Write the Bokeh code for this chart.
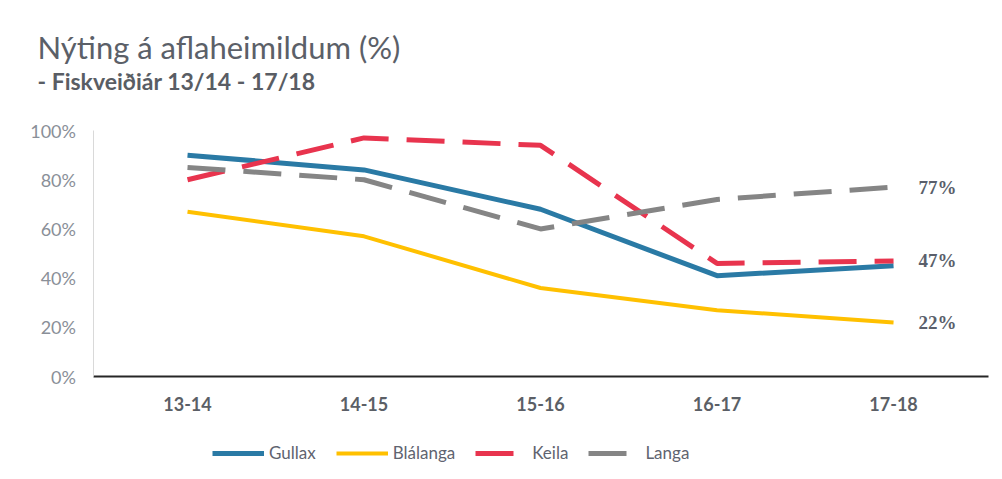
from bokeh.plotting import figure
from bokeh.models import (Range1d, FixedTicker, LabelSet, ColumnDataSource,
                          Legend, LegendItem, Label, LinearAxis)
from bokeh.embed import file_html
from bokeh.resources import INLINE

categories = ["13-14", "14-15", "15-16", "16-17", "17-18"]
gullax = [90, 84, 68, 41, 45]
blalanga = [67, 57, 36, 27, 22]
keila = [80, 97, 94, 46, 47]
langa = [85, 80, 60, 72, 77]
y_ticks = [0, 20, 40, 60, 80, 100]

FONT = "Lato"
W, H = 1000, 475
xs = list(range(len(categories)))

# the frame covers the whole canvas; axes are pinned inside it
X0, X1 = -0.53, 4.54          # extent of the drawn x axis
p = figure(width=W, height=H, output_backend="svg", toolbar_location=None,
           x_range=Range1d(-1.0595, 4.606), y_range=Range1d(-40.2, 152.85),
           min_border=0, x_axis_location=None, y_axis_location=None, title=None)
p.outline_line_color = None
p.grid.visible = False
p.background_fill_color = "white"
p.border_fill_color = "white"

xaxis = LinearAxis(fixed_location=0, bounds=(X0, X1),
                   ticker=FixedTicker(ticks=xs),
                   major_label_overrides={i: c for i, c in enumerate(categories)})
xaxis.axis_line_color = "#262626"
xaxis.axis_line_width = 2
xaxis.major_tick_line_color = None
xaxis.minor_tick_line_color = None
xaxis.major_tick_out = 0
xaxis.major_tick_in = 0
xaxis.major_label_standoff = 20
xaxis.major_label_text_font = FONT
xaxis.major_label_text_font_size = "18px"
xaxis.major_label_text_font_style = "bold"
xaxis.major_label_text_color = "#5b5f66"
p.add_layout(xaxis, "below")

yaxis = LinearAxis(fixed_location=X0, bounds=(0, 100),
                   ticker=FixedTicker(ticks=y_ticks),
                   major_label_overrides={t: f"{t}%" for t in y_ticks})
yaxis.axis_line_color = "#d9d9d9"
yaxis.axis_line_width = 1
yaxis.major_tick_line_color = None
yaxis.minor_tick_line_color = None
yaxis.major_tick_out = 0
yaxis.major_tick_in = 0
yaxis.major_label_standoff = 18
yaxis.major_label_text_font = FONT
yaxis.major_label_text_font_size = "18px"
yaxis.major_label_text_color = "#8a8f98"
p.add_layout(yaxis, "left")

c_gullax = "#2A7AA5"
c_blalanga = "#FFC000"
c_keila = "#E8344E"
c_langa = "#858585"

r_gullax = p.line(xs, gullax, line_color=c_gullax, line_width=5, line_join="round")
r_blalanga = p.line(xs, blalanga, line_color=c_blalanga, line_width=4, line_join="round")
r_keila = p.line(xs, keila, line_color=c_keila, line_width=5, line_dash="38 18")
r_langa = p.line(xs, langa, line_color=c_langa, line_width=5, line_dash="38 18")

# data labels at last point
lbl_vals = [langa[-1], keila[-1], blalanga[-1]]
lbl_src = ColumnDataSource(dict(
    x=[xs[-1]] * 3,
    y=lbl_vals,
    t=[f"{v}%" for v in lbl_vals],
))
p.add_layout(LabelSet(x="x", y="y", text="t", source=lbl_src, x_offset=25,
                      text_baseline="middle", text_font=FONT, text_font_size="19px",
                      text_font_style="bold", text_color="#5a5f6b"))

# legend
legend = Legend(items=[
    LegendItem(label="Gullax", renderers=[r_gullax]),
    LegendItem(label="Blálanga", renderers=[r_blalanga]),
    LegendItem(label="Keila", renderers=[r_keila]),
    LegendItem(label="Langa", renderers=[r_langa]),
], orientation="horizontal", location=(212, H - 463))
legend.glyph_width = 52
legend.glyph_height = 20
legend.label_standoff = 5
legend.spacing = 20
legend.padding = 0
legend.margin = 0
legend.border_line_color = None
legend.background_fill_alpha = 0
legend.label_text_font = FONT
legend.label_text_font_size = "17px"
legend.label_text_color = "#5f6470"
p.add_layout(legend, "center")

# titles
p.add_layout(Label(x=37, y=H - 46, x_units="screen", y_units="screen",
                   text="Nýting á aflaheimildum (%)", text_font=FONT,
                   text_font_size="31px", text_color="#5b6068",
                   text_baseline="alphabetic"))
p.add_layout(Label(x=37, y=H - 80, x_units="screen", y_units="screen",
                   text="- Fiskveiðiár 13/14 - 17/18", text_font=FONT,
                   text_font_size="23px", text_font_style="bold",
                   text_color="#595d64", text_baseline="alphabetic"))

open("out.html", "w").write(file_html(p, INLINE))
